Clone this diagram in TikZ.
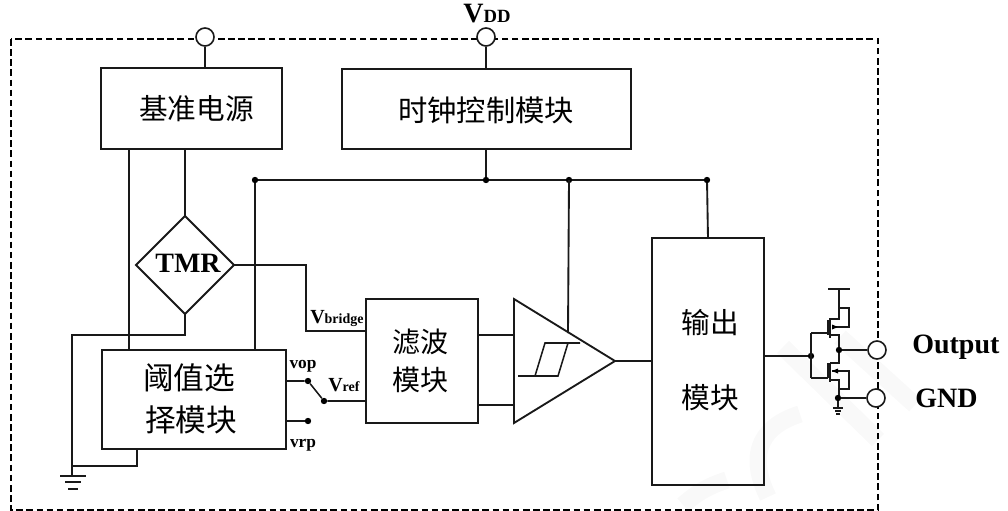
\documentclass[tikz,border=0pt]{standalone}
\usepackage{fontspec}
\setmainfont{Liberation Serif}
\newfontfamily\cjk{Noto Sans CJK SC}
\begin{document}
\begin{tikzpicture}[x=0.75pt,y=-0.75pt,
  wire/.style={draw=black!90,line width=1.4pt},
  thin wire/.style={draw=black!90,line width=1.15pt},
  blockbox/.style={draw=black!90,line width=1.5pt,inner sep=0pt},
  cn/.style={font=\cjk\fontsize{21.5}{25}\selectfont,inner sep=0pt},
  lat/.style={font=\bfseries\fontsize{21}{23}\selectfont,inner sep=0pt},
  sm/.style={font=\bfseries\fontsize{13}{14}\selectfont,inner sep=0pt},
  sub/.style={font=\bfseries\fontsize{10.5}{12}\selectfont,inner sep=0pt},
  smalldot/.style={circle,fill=black,inner sep=0pt,minimum size=4.8pt},
  pin/.style={circle,draw=black!90,line width=1.2pt,fill=white,inner sep=0pt,minimum size=13.5pt},
  mark wm/.style={draw=black!2.5,line width=13pt,line cap=butt}]
\useasboundingbox (0,0) rectangle (1008,511);
% faint watermark
\draw[mark wm] (783,347) -- (878,440);
\draw[mark wm] (840,337) -- (915,405);
\draw[mark wm] (800,414) .. controls (765,425) and (745,450) .. (768,497);
\draw[mark wm] (683,505) .. controls (700,490) and (712,485) .. (727,480);
% frame
\draw[line width=1.1pt,dash pattern=on 5pt off 2.6pt] (11,39) rectangle (878,510);
% blocks
\node[blockbox,minimum width=135.5pt,minimum height=60.5pt] (ref) at (191.5,108.5) {};
\node[blockbox,minimum width=216.5pt,minimum height=60pt] (clk) at (486.5,109) {};
\node[cn] at (196.5,109) {基准电源};
\node[cn,font=\cjk\fontsize{22}{25}\selectfont] at (486,110) {时钟控制模块};
\node[pin] (p1) at (205,37) {};
\node[pin] (p2) at (486,37) {};
\draw[wire] (p1) -- (p1 |- ref.north);
\draw[wire] (p2) -- (p2 |- clk.north);
\node[inner sep=0pt,font=\bfseries\fontsize{21}{23}\selectfont] at (487,14) {V\fontsize{14}{15}\selectfont DD};
% bus
\coordinate (busl) at (255,180);
\coordinate (busm) at (486,180);
\coordinate (busc) at (569,180);
\coordinate (busr) at (707,180);
% threshold block
\node[blockbox,minimum width=138pt,minimum height=74pt] (sel) at (193.5,399.5) {};
\node[cn,font=\cjk\fontsize{23}{25}\selectfont] at (189,378) {阈值选};
\node[cn,font=\cjk\fontsize{23}{25}\selectfont] at (191,420) {择模块};
% filter
\node[blockbox,minimum width=84pt,minimum height=93pt] (flt) at (422,361) {};
\node[cn,font=\cjk\fontsize{21}{25}\selectfont] at (420.5,342) {滤波};
\node[cn,font=\cjk\fontsize{21}{25}\selectfont] at (420.5,380) {模块};
% output block
\node[blockbox,minimum width=84pt,minimum height=185pt] (out) at (708,361.5) {};
\node[cn] at (710,323) {输出};
\node[cn] at (710,398) {模块};
% bus wires
\draw[wire] (clk.south -| busm) -- (busm);
\draw[wire] (busl |- sel.north) -- (busl) -- (busr) -- (708,238);
\foreach \p in {busl,busm,busc,busr} \node[smalldot] at (\p) {};
% reference to select
\draw[wire] (129,149) -- (129,350);
\coordinate (tmrtop) at (185,216);
\coordinate (tmrright) at (234,265);
\coordinate (tmrbot) at (185,314);
\coordinate (tmrleft) at (136,265);
\draw[wire] (tmrtop |- ref.south) -- (tmrtop);
% TMR
\draw[wire,fill=white] (tmrtop) -- (tmrright) -- (tmrbot) -- (tmrleft) -- cycle;
\node[lat] (tmr) at (188,263) {TMR};
\coordinate (gnd) at (72,466);
\draw[wire] (tmrbot) -- (185,335) -- (72,335) -- (gnd) -- (72,476);
\draw[wire] (gnd) -- (137,466) -- (137,449);
\draw[wire] (60,476) -- (86,476);
\draw[wire] (65,482) -- (81,482);
\draw[wire] (68,489) -- (78,489);
% bridge
\draw[wire] (tmrright) -- (306,265) -- (306,331) -- (366,331);
\node[sub,anchor=base west] at (310,323) {{\fontsize{15}{15}\selectfont V}bridge};
% switch
\node[smalldot] (sa) at (308,381) {};
\node[smalldot] (sb) at (324,401) {};
\node[smalldot] (sc) at (308,421) {};
\draw[thin wire] (285,381) -- (sa) -- (sb) -- (366,401);
\draw[thin wire] (285,421) -- (sc);
\node[sm,anchor=base] at (303,368) {vop};
\node[sm,anchor=base] at (303,447) {vrp};
\node[sub,anchor=base west] at (328,391) {{\fontsize{15}{15}\selectfont V}ref};
% comparator
\draw[wire] (busc) -- (568,333);
\draw[wire] (514,299) -- (615,361) -- (514,423) -- cycle;
\draw[wire] (478,335) -- (514,335);
\draw[wire] (478,405) -- (514,405);
\draw[thin wire] (518,376) -- (558,376) -- (568,343) -- (580,343);
\draw[thin wire] (535,376) -- (545,343) -- (568,343);
\draw[wire] (615,361) -- (652,361);
% transistors
\node[smalldot] (gate) at (811,356) {};
\draw[thin wire] (out.east |- gate) -- (gate);
\draw[thin wire] (811,333) -- (811,378);
\draw[thin wire] (811,333) -- (828,333);
\draw[thin wire] (811,378) -- (828,378);
\draw[thin wire] (828,320) -- (828,335);
\draw[thin wire] (828,363) -- (828,378);
\draw[thin wire] (830,318) -- (830,338);
\draw[thin wire] (830,363) -- (830,382);
\draw[thin wire] (828,289) -- (850,289);
\draw[thin wire] (839,289) -- (839,319) -- (830,319);
\draw[thin wire] (839,308) -- (849,308) -- (849,327) -- (832,327);
\draw[thin wire] (830,335) -- (839,335) -- (839,363) -- (830,363);
\draw[thin wire] (830,380) -- (839,380) -- (839,398);
\draw[thin wire] (832,371) -- (849,371) -- (849,389) -- (839,389);
\fill (838,327) -- (832,324.5) -- (832,329.5) -- cycle;
\fill (832,371) -- (838,368.5) -- (838,373.5) -- cycle;
\node[smalldot] (sout) at (839,350) {};
\node[smalldot] (sgnd) at (838,398) {};
\node[pin] (pout) at (877,350) {};
\node[pin] (pgnd) at (876,398) {};
\draw[thin wire] (sout) -- (pout);
\draw[thin wire] (sgnd) -- (pgnd);
\draw[thin wire] (sgnd) -- (838,408);
\draw[thin wire] (833,408) -- (843,408);
\draw[thin wire] (835,411) -- (841,411);
\draw[thin wire] (836,414) -- (840,414);
\node[lat,anchor=west] at (912,347) {Output};
\node[lat,anchor=west] at (915,398) {GND};
\end{tikzpicture}
\end{document}
